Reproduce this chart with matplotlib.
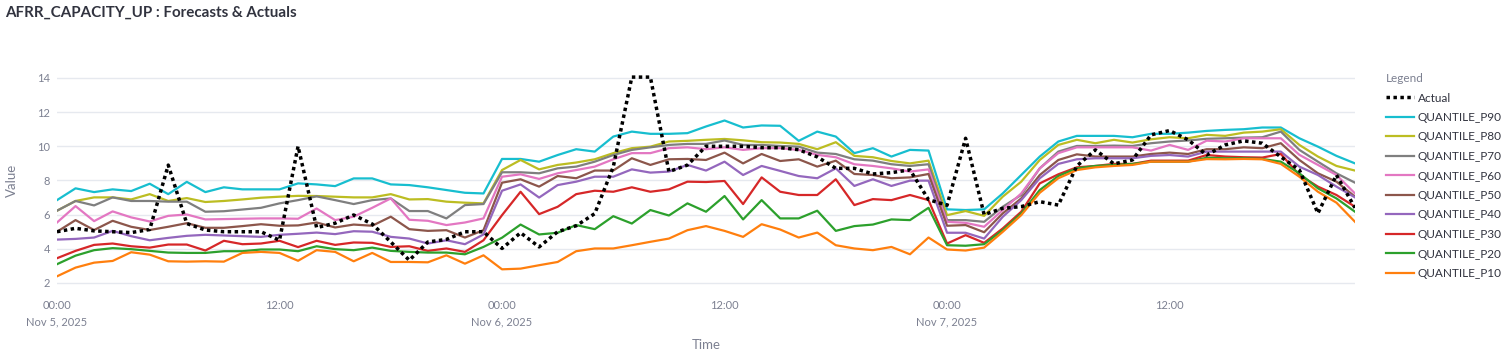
import matplotlib.pyplot as plt
import pandas as pd

plt.rcParams['font.family'] = ['Lato', 'DejaVu Sans']

#hourly timestamps, Nov 5 00:00 to Nov 7 22:00
times = pd.date_range("2025-11-05 00:00", periods=71, freq="h")

actual = [5.0, 5.2, 5.05, 5.0, 4.95, 5.13, 8.9, 5.48, 5.1, 5.0, 5.0, 5.0, 4.5, 10.0, 5.24, 5.5,
          5.98, 5.45, 4.4, 3.33, 4.4, 4.55, 5.0, 5.0, 4.02, 4.94, 4.11, 5.0, 5.35, 6.06, 8.8, 14.05,
          14.05, 8.52, 8.9, 10.0, 10.0, 10.0, 9.92, 9.92, 9.8, 9.38, 8.71, 8.71, 8.38, 8.46, 8.62, 6.88,
          6.55, 10.47, 6.0, 6.37, 6.47, 6.76, 6.56, 8.85, 9.79, 8.97, 9.2, 10.67, 10.92, 10.38, 9.49,
          10.08, 10.32, 10.18, 9.38, 8.62, 6.08, 8.32, 6.4]

p90 = [6.85, 7.54, 7.32, 7.48, 7.38, 7.81, 7.2, 7.92, 7.32, 7.6, 7.48, 7.48, 7.48, 7.83, 7.77, 7.67,
       8.12, 8.12, 7.77, 7.73, 7.6, 7.44, 7.28, 7.24, 9.26, 9.26, 9.1, 9.49, 9.83, 9.69, 10.57, 10.86,
       10.73, 10.73, 10.77, 11.16, 11.51, 11.1, 11.22, 11.2, 10.32, 10.86, 10.57, 9.6, 9.89, 9.4, 9.79,
       9.75, 6.31, 6.27, 6.31, 7.24, 8.32, 9.4, 10.28, 10.61, 10.61, 10.61, 10.53, 10.73, 10.73, 10.8,
       10.9, 10.96, 11.0, 11.1, 11.1, 10.47, 9.98, 9.44, 9.0]

p80 = [6.23, 6.8, 7.01, 7.01, 6.89, 7.2, 6.8, 6.97, 6.74, 6.8, 6.89, 6.99, 7.05, 7.1, 7.09, 7.05,
       7.01, 7.01, 7.2, 6.89, 6.91, 6.76, 6.7, 6.66, 8.61, 9.2, 8.65, 8.91, 9.05, 9.24, 9.6, 9.89,
       9.98, 10.28, 10.32, 10.38, 10.43, 10.35, 10.24, 10.22, 10.14, 9.83, 10.24, 9.44, 9.36, 9.14, 9.0,
       9.16, 5.97, 6.21, 5.93, 7.05, 7.93, 9.2, 10.08, 10.38, 10.18, 10.38, 10.22, 10.41, 10.53, 10.47,
       10.67, 10.61, 10.8, 10.86, 11.0, 10.08, 9.4, 8.85, 8.58]

p70 = [6.23, 6.8, 6.54, 7.01, 6.8, 6.8, 6.76, 6.76, 6.17, 6.2, 6.3, 6.4, 6.66, 6.85, 7.07, 6.85,
       6.62, 6.85, 6.95, 6.21, 6.21, 5.78, 6.56, 6.62, 8.48, 8.48, 8.42, 8.71, 8.81, 9.1, 9.49, 9.79,
       9.94, 10.08, 10.14, 10.14, 10.34, 10.08, 10.08, 10.02, 9.98, 9.63, 9.55, 9.24, 9.16, 8.95, 8.85,
       8.95, 5.68, 5.68, 5.58, 6.46, 7.15, 8.71, 9.69, 10.02, 10.02, 10.04, 10.02, 10.18, 10.28, 10.34,
       10.44, 10.47, 10.51, 10.53, 10.86, 9.79, 9.1, 8.42, 7.87]

p60 = [5.54, 6.5, 5.62, 6.19, 5.84, 5.6, 5.93, 6.01, 5.72, 5.74, 5.76, 5.78, 5.78, 5.76, 6.36, 5.68,
       5.88, 6.4, 6.95, 5.7, 5.64, 5.39, 5.54, 5.78, 8.22, 8.36, 8.09, 8.42, 8.61, 8.81, 9.24, 9.6,
       9.6, 9.89, 9.94, 9.83, 9.94, 9.79, 9.89, 9.89, 9.79, 9.5, 9.36, 8.95, 8.85, 8.71, 8.52,
       8.65, 5.58, 5.52, 5.29, 6.27, 7.24, 8.71, 9.6, 9.94, 9.94, 9.94, 9.94, 9.75, 10.08, 9.79,
       10.33, 10.28, 10.47, 10.47, 10.47, 9.5, 8.91, 8.32, 7.24]

p50 = [5.0, 5.68, 5.1, 5.64, 5.29, 5.1, 5.29, 5.5, 5.23, 5.23, 5.33, 5.44, 5.35, 5.37, 5.54, 5.25,
       5.42, 5.35, 5.88, 5.15, 5.05, 5.09, 4.66, 5.09, 7.87, 8.07, 7.64, 8.26, 8.13, 8.58, 8.58, 9.3,
       8.91, 9.24, 9.26, 9.2, 9.63, 9.0, 9.55, 9.14, 9.24, 8.81, 9.16, 8.38, 8.32, 8.13, 8.18,
       8.38, 5.35, 5.39, 4.97, 6.07, 6.95, 8.32, 9.2, 9.53, 9.4, 9.4, 9.4, 9.55, 9.63, 9.55,
       9.83, 9.83, 9.94, 9.89, 10.18, 9.2, 8.42, 7.93, 7.05]

p40 = [4.54, 4.58, 4.66, 5.05, 4.74, 4.5, 4.64, 4.76, 4.82, 4.78, 4.74, 4.7, 4.82, 4.88, 4.95, 4.86,
       5.03, 5.0, 4.7, 4.6, 4.31, 4.5, 4.27, 4.84, 7.4, 7.77, 7.0, 7.73, 7.93, 8.22, 8.22, 8.65,
       8.46, 8.52, 8.91, 8.58, 9.1, 8.32, 8.85, 8.56, 8.26, 8.13, 8.71, 7.68, 8.07, 7.68, 7.99,
       7.99, 4.94, 4.94, 4.6, 5.87, 6.85, 8.13, 8.97, 9.24, 9.3, 9.3, 9.3, 9.44, 9.49, 9.4,
       9.69, 9.69, 9.69, 9.69, 9.69, 8.81, 8.32, 7.64, 7.01]

p30 = [3.45, 3.88, 4.23, 4.31, 4.15, 4.07, 4.25, 4.25, 3.9, 4.47, 4.27, 4.31, 4.47, 4.1, 4.47, 4.23,
       4.37, 4.35, 4.11, 4.15, 3.88, 4.02, 3.82, 4.5, 5.97, 7.34, 6.03, 6.46, 7.2, 7.4, 7.34, 7.6,
       7.34, 7.48, 7.93, 7.91, 7.97, 6.62, 8.18, 7.34, 7.15, 7.15, 8.07, 6.56, 6.91, 6.85, 7.15,
       6.85, 4.31, 4.8, 4.35, 5.19, 6.17, 7.83, 8.36, 8.77, 8.85, 8.97, 8.97, 9.16, 9.16, 9.16,
       9.49, 9.4, 9.36, 9.34, 9.55, 8.32, 7.64, 7.15, 6.46]

p20 = [3.1, 3.6, 3.92, 4.04, 3.98, 3.88, 3.78, 3.76, 3.76, 3.86, 3.86, 3.96, 3.96, 3.86, 4.15, 3.98,
       3.92, 4.07, 3.88, 3.82, 3.78, 3.78, 3.68, 4.11, 4.65, 5.42, 4.84, 4.94, 5.39, 5.15, 5.91, 5.48,
       6.27, 5.95, 6.66, 6.17, 7.09, 5.72, 6.85, 5.78, 5.78, 6.23, 5.05, 5.33, 5.42, 5.72, 5.68,
       6.4, 4.21, 4.18, 4.27, 5.09, 6.07, 7.44, 8.26, 8.71, 8.85, 8.91, 8.97, 9.1, 9.1, 9.1,
       9.33, 9.3, 9.3, 9.26, 9.1, 8.42, 7.54, 6.95, 6.17]

p10 = [2.39, 2.9, 3.19, 3.29, 3.8, 3.66, 3.27, 3.25, 3.27, 3.25, 3.76, 3.82, 3.76, 3.3, 3.92, 3.82,
       3.27, 3.76, 3.23, 3.23, 3.21, 3.62, 3.13, 3.62, 2.8, 2.84, 3.04, 3.23, 3.86, 4.02, 4.02, 4.21,
       4.41, 4.6, 5.09, 5.33, 5.05, 4.7, 5.44, 5.13, 4.66, 4.95, 4.21, 4.02, 3.92, 4.11, 3.68,
       4.66, 3.96, 3.9, 4.07, 4.99, 5.97, 7.28, 8.13, 8.61, 8.77, 8.85, 8.91, 9.1, 9.1, 9.1,
       9.25, 9.24, 9.26, 9.24, 8.97, 8.22, 7.34, 6.7, 5.58]

quantiles = [("QUANTILE_P90", p90, "#17becf"), ("QUANTILE_P80", p80, "#bcbd22"),
             ("QUANTILE_P70", p70, "#7f7f7f"), ("QUANTILE_P60", p60, "#e377c2"),
             ("QUANTILE_P50", p50, "#8c564b"), ("QUANTILE_P40", p40, "#9467bd"),
             ("QUANTILE_P30", p30, "#d62728"), ("QUANTILE_P20", p20, "#2ca02c"),
             ("QUANTILE_P10", p10, "#ff7f0e")]

tick_idx = [0, 12, 24, 36, 48, 60]
tick_labels = ["00:00\nNov 5, 2025", "12:00", "00:00\nNov 6, 2025", "12:00",
               "00:00\nNov 7, 2025", "12:00"]

grey = "#7c8091"

fig = plt.figure(figsize=(15.03, 3.54), dpi=100)
ax = fig.add_axes([57 / 1503, 1 - 293 / 354, 1298 / 1503, 227 / 354])

#quantiles first so the actuals sit on top
ax.plot(times, actual, color="black", linewidth=2.5, linestyle=(0, (1, 1)), label="Actual", zorder=5)
for name, vals, col in quantiles:
    ax.plot(times, vals, color=col, linewidth=1.6, label=name)

ax.set_xlim(times[0], times[-1])
ax.set_ylim(1.414, 14.70)
ax.set_yticks([2, 4, 6, 8, 10, 12, 14])
ax.set_xticks([times[i] for i in tick_idx])
ax.set_xticklabels(tick_labels, linespacing=1.6)
ax.tick_params(length=0, labelsize=8, labelcolor=grey, pad=5)
ax.grid(axis="y", color="#e6e9ef", linewidth=1)
ax.set_axisbelow(True)
for s in ax.spines.values():
    s.set_visible(False)

fig.text(12 / 1503, 1 - 180 / 354, "Value", rotation=90, ha="center", va="center", color=grey, fontsize=9.5)
fig.text(706 / 1503, 1 - 345 / 354, "Time", ha="center", va="center", color=grey, fontsize=9.5)
fig.text(5 / 1503, 1 - 13 / 354, "AFRR_CAPACITY_UP : Forecasts & Actuals", ha="left", va="center",
         fontsize=10.9, fontweight="bold", color="#31333f")

#legend on the right, like plotly
handles, labels = ax.get_legend_handles_labels()
leg = fig.legend(handles, labels, loc="upper left", bbox_to_anchor=(1386 / 1503, 1 - 73 / 354),
                 frameon=False, fontsize=8.5, title="Legend", title_fontsize=8.5,
                 handlelength=2.35, handletextpad=0.35, labelspacing=0.72, borderaxespad=0, borderpad=0)
leg.get_title().set_color(grey)
leg._legend_box.align = "left"
for t in leg.get_texts():
    t.set_color("#31333f")

plt.savefig("out.png", dpi=100)
